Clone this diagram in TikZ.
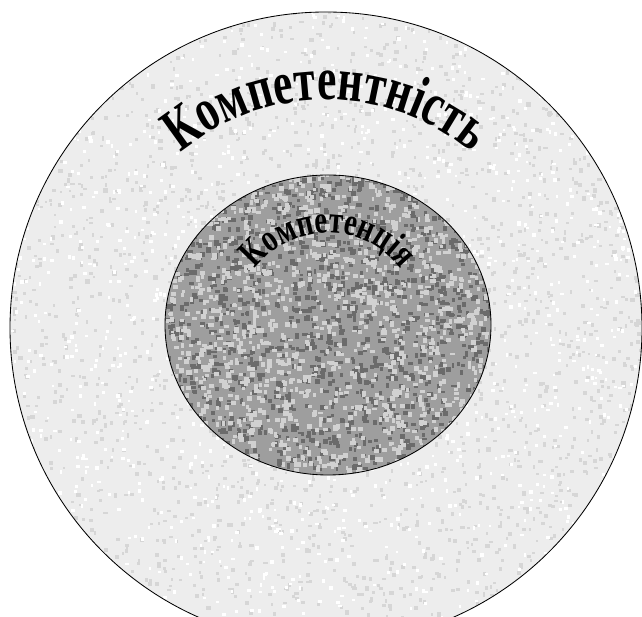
\documentclass[tikz,border=0pt]{standalone}
\usepackage{fontspec}
\setmainfont{Liberation Serif}
\usepackage{tikz}
\usetikzlibrary{decorations.text}
\definecolor{outerfill}{gray}{0.93}
\definecolor{innerfill}{gray}{0.62}
\tikzstyle{ring} = [draw=black, line width=0.6pt]
\tikzstyle{speck} = [fill=black!16]
\tikzstyle{arctext} = [decorate, decoration={text along path, text align=center, text color=black}]

\begin{document}
\begin{tikzpicture}[x=0.025cm, y=0.025cm]
  \useasboundingbox (0,0) rectangle (642,616);
  \clip (0,0) rectangle (642,616);
  \coordinate (outerc) at (326,288);
  \coordinate (innerc) at (328,291);
  \pgfmathsetseed{11}
  \fill[outerfill] (outerc) circle (316);
  \begin{scope}[shift={(outerc)}]
    \clip (0,0) circle (316);
    \foreach \i in {1,...,2600} \fill[speck] (rand*316, rand*316) rectangle ++(2+2.5*rnd, 2+2.5*rnd);
    \foreach \i in {1,...,1400} \fill[white] (rand*316, rand*316) rectangle ++(2+2*rnd, 2+2*rnd);
  \end{scope}
  \fill[innerfill] (innerc) ellipse (163 and 150);
  \begin{scope}[shift={(innerc)}]
    \clip (0,0) ellipse (163 and 150);
    \foreach \i in {1,...,1500} \fill[black!58] (rand*163, rand*150) rectangle ++(2.5+3*rnd, 2.5+3*rnd);
    \foreach \i in {1,...,1500} \fill[black!18] (rand*163, rand*150) rectangle ++(2.5+3*rnd, 2.5+3*rnd);
  \end{scope}
  \draw[ring] (outerc) circle (316);
  \draw[ring] (innerc) ellipse (163 and 150);
  \path[arctext, decoration={transform={yscale=1.4}, text={|\fontsize{31}{31}\selectfont\bfseries|Компетентність}}]
    (outerc) ++(160:228) arc (160:20:228);
  \path[arctext, decoration={transform={yscale=1.35}, text={|\fontsize{20.5}{20.5}\selectfont\bfseries|Компетенція}}]
    (innerc) ++(165:92) arc (165:15:92);
\end{tikzpicture}
\end{document}
